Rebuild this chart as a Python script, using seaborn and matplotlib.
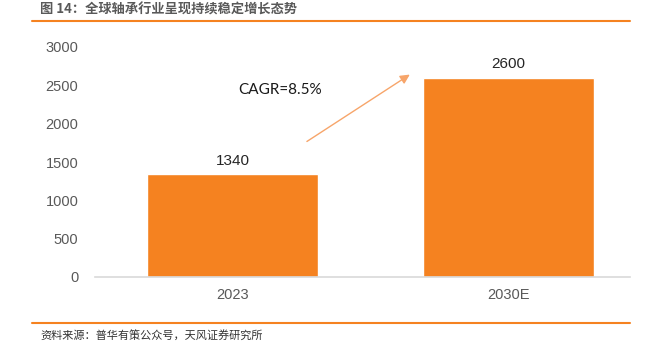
import matplotlib
matplotlib.use("Agg")
import matplotlib.pyplot as plt
import seaborn as sns
import pandas as pd

categories = ["2023", "2030E"]
values = [1340, 2600]
value_labels = ["1340", "2600"]
yticks = [0, 500, 1000, 1500, 2000, 2500, 3000]
title = "图 14：全球轴承行业呈现持续稳定增长态势"
source = "资料来源：普华有策公众号，天风证券研究所"
cagr = "CAGR=8.5%"

sns.set_style("white")
plt.rcParams['font.family'] = ['Noto Sans CJK SC', 'DejaVu Sans']

df = pd.DataFrame({"year": categories, "value": values})

W, H = 657, 344
fig = plt.figure(figsize=(W/100, H/100), dpi=100)
ax = fig.add_axes([95/W, 1-277/H, (630-95)/W, (277-47)/H])

sns.barplot(data=df, x="year", y="value", ax=ax, color="#F58220",
            saturation=1, width=0.62)
ax.set_xlim(-0.5, 1.44)
ax.set_ylim(0, 3000)
ax.set_yticks(yticks)
ax.set_yticklabels([str(t) for t in yticks], fontsize=10.5, color="#595959",
                   family=['Liberation Sans', 'DejaVu Sans'])
ax.set_xticks(range(len(categories)))
ax.set_xticklabels(categories, fontsize=10.5, color="#595959",
                   family=['Liberation Sans', 'DejaVu Sans'])
ax.set_xlabel("")
ax.set_ylabel("")
for s in ["top", "right", "left"]:
    ax.spines[s].set_visible(False)
ax.spines["bottom"].set_color("#D9D9D9")
ax.spines["bottom"].set_linewidth(1.2)
ax.tick_params(axis="both", length=0)
ax.tick_params(axis="y", pad=12)
ax.tick_params(axis="x", pad=8)

for i, (v, lab) in enumerate(zip(values, value_labels)):
    ax.text(i, v + 85, lab, ha="center", va="bottom", fontsize=11,
            color="#262626", family=['Liberation Sans', 'DejaVu Sans'])

ax.annotate("", xy=(0.65, 2660), xytext=(0.26, 1748),
            arrowprops=dict(arrowstyle="-|>", color="#F7A56A", lw=1.0,
                            mutation_scale=14))
ax.text(0.02, 2439, cagr, ha="left", va="center", fontsize=11, color="#1a1a1a",
        family=['Lato', 'DejaVu Sans'])

fig.text(40/W, 1-10/H, title, ha="left", va="center", fontsize=9.5,
         fontweight="bold", color="#595959")
fig.add_artist(plt.Line2D([32/W, 630/W], [1-21/H, 1-21/H], color="#F58220", lw=1.5))
fig.add_artist(plt.Line2D([32/W, 630/W], [1-323/H, 1-323/H], color="#F58220", lw=1.5))
fig.text(40/W, 1-336/H, source, ha="left", va="center", fontsize=8,
         color="#333333")

fig.savefig("out.png", dpi=100)
